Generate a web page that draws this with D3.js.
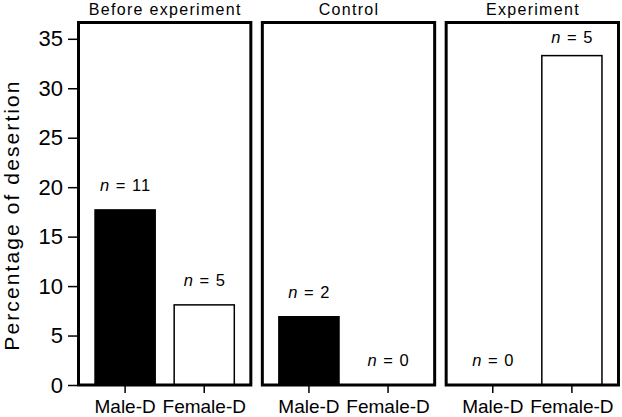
<!DOCTYPE html>
<html>
<head>
<meta charset="utf-8">
<script src="https://cdn.jsdelivr.net/npm/d3@7"></script>
<style>
  html, body { margin: 0; padding: 0; background: #fff; }
  svg { display: block; font-family: "Liberation Sans", Arial, Helvetica, sans-serif; }
</style>
</head>
<body>
<svg id="chart" width="622" height="417"></svg>
<script>
// ---- data ----
const panels = ["Before experiment", "Control", "Experiment"];
const categories = ["Male-D", "Female-D"];
const values = [
  [17.7, 8.1],   // Before experiment
  [6.9, 0],      // Control
  [0, 33.3]      // Experiment
];
const counts = [
  [11, 5],
  [2, 0],
  [0, 5]
];
const yTicks = [0, 5, 10, 15, 20, 25, 30, 35];
const yLabel = "Percentage of desertion";

// ---- layout ----
const svg = d3.select("#chart");
const mLeft = 77, mRight = 620, mTop = 21, mBottom = 385;
const gap = 8.5;
const pw = (mRight - mLeft - gap * (panels.length - 1)) / panels.length;

const y = d3.scaleLinear().domain([0, 36.8]).range([mBottom, mTop]);
const px = d3.scaleBand().domain(panels).range([mLeft, mRight + gap]).paddingInner(0);

// y axis
const yAxis = svg.append("g")
  .attr("transform", `translate(${mLeft},0)`)
  .call(d3.axisLeft(y).tickValues(yTicks).tickSize(9).tickPadding(5).tickFormat(d3.format("d")));
yAxis.select(".domain").remove();
yAxis.selectAll(".tick line").attr("stroke", "#000").attr("stroke-width", 1.5);
yAxis.selectAll(".tick text").attr("font-size", 22).attr("fill", "#000")
  .attr("font-family", "Liberation Sans, Arial, sans-serif");

svg.append("text")
  .attr("transform", `translate(18.5,${215}) rotate(-90)`)
  .attr("text-anchor", "middle")
  .attr("font-size", 21)
  .attr("letter-spacing", "2.1px")
  .attr("fill", "#000")
  .text(yLabel);

panels.forEach((p, i) => {
  const x0 = px(p);
  const g = svg.append("g");
  const x = d3.scaleBand().domain(categories).range([x0, x0 + pw])
    .paddingInner(0.24).paddingOuter(0.228);

  // bars
  g.selectAll("rect.bar")
    .data(categories.map((c, j) => ({ c, v: values[i][j], n: counts[i][j], j })))
    .join("rect")
    .attr("class", "bar")
    .attr("x", d => x(d.c))
    .attr("width", x.bandwidth())
    .attr("y", d => y(d.v))
    .attr("height", d => y(0) - y(d.v))
    .attr("fill", d => d.j === 0 ? "#000" : "#fff")
    .attr("stroke", "#000")
    .attr("stroke-width", d => d.v > 0 ? 1.5 : 0);

  // n labels
  g.selectAll("text.n")
    .data(categories.map((c, j) => ({ c, v: values[i][j], n: counts[i][j] })))
    .join("text")
    .attr("class", "n")
    .attr("x", d => x(d.c) + x.bandwidth() / 2 + 0.5)
    .attr("y", d => Math.max(y(d.v) - 19, mTop + 22))
    .attr("text-anchor", "middle")
    .attr("font-size", 16.5)
    .attr("letter-spacing", "1px")
    .attr("fill", "#000")
    .each(function(d) {
      const t = d3.select(this);
      t.append("tspan").attr("font-style", "italic").text("n");
      t.append("tspan").text(" = " + d.n);
    });

  // panel frame
  g.append("rect")
    .attr("x", x0 + 1.5)
    .attr("y", mTop + 1.5)
    .attr("width", pw - 3)
    .attr("height", mBottom - mTop - 1.5)
    .attr("fill", "none")
    .attr("stroke", "#000")
    .attr("stroke-width", 3);

  // x axis
  const xa = g.append("g")
    .attr("transform", `translate(0,${mBottom})`)
    .call(d3.axisBottom(x).tickSize(8).tickPadding(7));
  xa.select(".domain").remove();
  xa.selectAll(".tick line").attr("stroke", "#000").attr("stroke-width", 1.5);
  xa.selectAll(".tick text").attr("font-size", 19).attr("fill", "#000")
    .attr("font-family", "Liberation Sans, Arial, sans-serif");

  // title
  g.append("text")
    .attr("x", x0 + pw / 2 + 0.6)
    .attr("y", 14.5)
    .attr("text-anchor", "middle")
    .attr("font-size", 16)
    .attr("letter-spacing", "1.3px")
    .attr("fill", "#000")
    .text(p);
});
</script>
</body>
</html>
